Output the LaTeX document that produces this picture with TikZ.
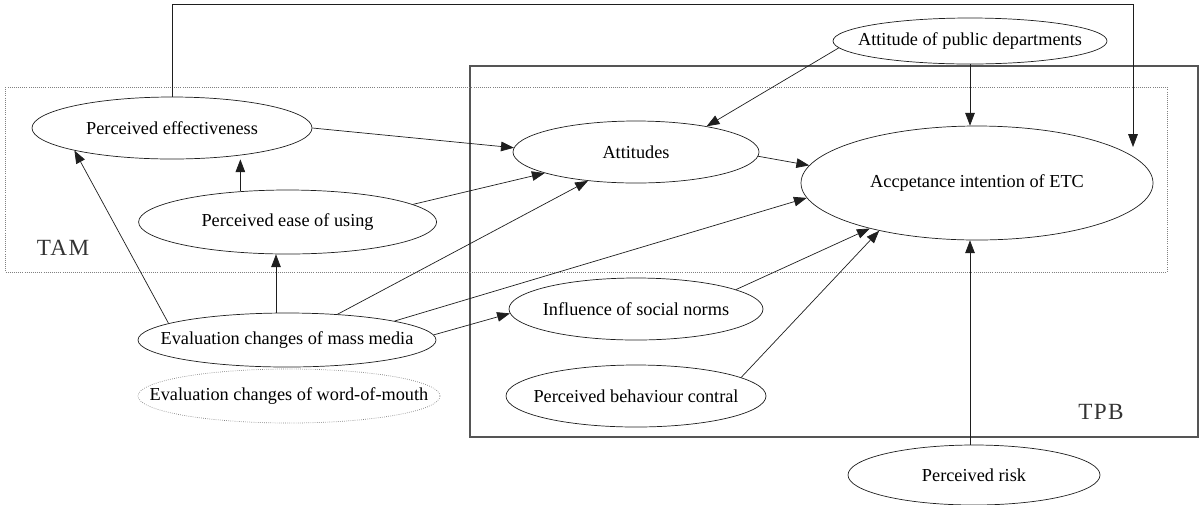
\documentclass[tikz,border=0pt]{standalone}
\usepackage{fontspec}
\setmainfont{Liberation Serif}
\newfontfamily\modelfont[LetterSpace=6]{Liberation Serif}
\usetikzlibrary{arrows.meta,shapes.geometric}
\definecolor{lineblk}{RGB}{30,30,30}
\definecolor{framegray}{RGB}{85,85,85}
\tikzset{
  ell/.style={draw=lineblk, ellipse, inner xsep=-3cm, inner ysep=0pt, line width=0.5pt, font=\fontsize{13}{15}\selectfont},
  dotell/.style={ell, draw=gray, densely dotted},
  arrow/.style={-{Triangle[length=3.2mm,width=2.4mm]}, line width=0.5pt, lineblk},
  frame/.style={draw=framegray, line width=0.8pt},
  dotframe/.style={draw=gray, densely dotted, line width=0.5pt},
  modellabel/.style={font=\modelfont\fontsize{16.5}{18}\selectfont, text=black!80}
}
\begin{document}
\begin{tikzpicture}
    \useasboundingbox (0,0) rectangle (30.025,-12.6);
    % model frames
    \draw[frame] (11.75,-1.65) rectangle (29.95,-10.925);
    \draw[dotframe] (0.125,-2.175) rectangle (29.175,-6.8);
    \node[modellabel] (tam) at (1.575,-6.2) {TAM};
    \node[modellabel] (tpb) at (27.525,-10.3) {TPB};
    % constructs
    \node[ell, minimum width=7.0cm, minimum height=1.55cm] (eff) at (4.3,-3.2) {Perceived effectiveness};
    \node[ell, minimum width=7.45cm, minimum height=1.6cm] (ease) at (7.19,-5.55) {Perceived ease of using};
    \node[ell, minimum width=7.45cm, minimum height=1.35cm] (media) at (7.175,-8.5) {Evaluation changes of mass media};
    \node[dotell, minimum width=7.55cm, minimum height=1.35cm] (wom) at (7.225,-9.9) {Evaluation changes of word-of-mouth};
    \node[ell, minimum width=6.15cm, minimum height=1.55cm] (att) at (15.9,-3.8) {Attitudes};
    \node[ell, minimum width=6.85cm, minimum height=1.15cm] (pub) at (24.25,-1.025) {Attitude of public departments};
    \node[ell, minimum width=8.8cm, minimum height=2.85cm] (acc) at (24.425,-4.575) {Accpetance intention of ETC};
    \node[ell, minimum width=6.35cm, minimum height=1.55cm] (soc) at (15.9,-7.725) {Influence of social norms};
    \node[ell, minimum width=6.5cm, minimum height=1.55cm] (pbc) at (15.9,-9.9) {Perceived behaviour contral};
    \node[ell, minimum width=6.3cm, minimum height=1.5cm] (risk) at (24.35,-11.875) {Perceived risk};
    % paths
    \coordinate (loopturn) at (28.325,-0.1);
    \coordinate (loopend) at (28.325,-3.675);
    \draw[arrow] (eff.north) |- (loopturn) -- (loopend);
    \draw[arrow] (media.172) -- (eff.193);
    \draw[arrow] (ease.147) -- (ease.147 |- eff.south);
    \draw[arrow] ([xshift=-0.275cm]media.north) -- ([xshift=-0.275cm]media.north |- ease.south);
    \draw[arrow] (media.27) -- (att.211);
    \draw[arrow] (media.10) -- (acc.185);
    \draw[arrow] (media.2) -- (soc.182);
    \draw[arrow] (ease.8) -- (att.193);
    \draw[arrow] (eff.0) -- (att.178);
    \draw[arrow] (att.358) -- (acc.174);
    \draw[arrow] (pub.183) -- (att.20);
    \draw[arrow] (pub.south) -- (pub.south |- acc.north);
    \draw[arrow] (soc.11) -- (acc.203);
    \draw[arrow] (pbc.10) -- (acc.206);
    \draw[arrow] (risk.north -| pub.south) -- (acc.south -| pub.south);
  \end{tikzpicture}
\end{document}
